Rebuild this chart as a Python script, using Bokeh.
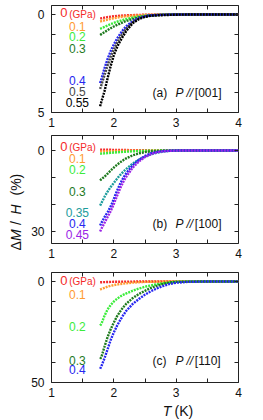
from math import pi
from bokeh.plotting import figure
from bokeh.layouts import column, row
from bokeh.models import Range1d, FixedTicker, LinearAxis, Label
from bokeh.embed import file_html
from bokeh.resources import INLINE

# ---------------- data ----------------
T = [1.78, 1.8, 1.85, 1.9, 1.95, 2.0, 2.05, 2.1, 2.15, 2.2, 2.3, 2.4, 2.5,
     2.6, 2.7, 2.8, 2.9, 3.0, 3.2, 3.5, 4.0]

# panel (a) P // [001]
a_pressures = ["0", "0.1", "0.2", "0.3", "0.4", "0.5", "0.55"]
a_p0 = [0.20, 0.19, 0.16, 0.13, 0.11, 0.09, 0.07, 0.06, 0.05, 0.04, 0.03, 0.02, 0.01, 0.01, 0.0, 0.0, 0.0, 0.0, 0.0, 0.0, 0.0]
a_p01 = [0.36, 0.34, 0.30, 0.26, 0.22, 0.19, 0.16, 0.13, 0.11, 0.09, 0.06, 0.04, 0.02, 0.01, 0.01, 0.0, 0.0, 0.0, 0.0, 0.0, 0.0]
a_p02 = [0.73, 0.70, 0.63, 0.56, 0.49, 0.43, 0.37, 0.32, 0.27, 0.23, 0.16, 0.10, 0.06, 0.04, 0.02, 0.01, 0.0, 0.0, 0.0, 0.0, 0.0]
a_p03 = [1.04, 1.00, 0.90, 0.80, 0.70, 0.61, 0.53, 0.46, 0.39, 0.33, 0.23, 0.15, 0.09, 0.05, 0.03, 0.01, 0.01, 0.0, 0.0, 0.0, 0.0]
a_p04 = [3.50, 3.30, 2.75, 2.27, 1.86, 1.53, 1.24, 1.00, 0.78, 0.60, 0.34, 0.17, 0.08, 0.04, 0.02, 0.01, 0.0, 0.0, 0.0, 0.0, 0.0]
a_p05 = [3.80, 3.60, 3.10, 2.60, 2.15, 1.78, 1.45, 1.17, 0.93, 0.72, 0.40, 0.20, 0.10, 0.05, 0.03, 0.02, 0.01, 0.0, 0.0, 0.0, 0.0]
a_p055 = [4.68, 4.45, 3.92, 3.25, 2.62, 2.08, 1.68, 1.36, 1.10, 0.84, 0.45, 0.24, 0.12, 0.06, 0.04, 0.03, 0.02, 0.01, 0.0, 0.0, 0.0]

# panel (b) P // [100]
b_pressures = ["0", "0.1", "0.2", "0.3", "0.35", "0.4", "0.45"]
b_p0 = [-0.3, -0.3, -0.3, -0.3, -0.3, -0.2, -0.2, -0.2, -0.2, -0.2, -0.1, -0.1, -0.1, -0.1, 0.0, 0.0, 0.0, 0.0, 0.0, 0.0, 0.0]
b_p01 = [0.35, 0.33, 0.30, 0.27, 0.24, 0.21, 0.18, 0.15, 0.13, 0.11, 0.08, 0.05, 0.03, 0.02, 0.01, 0.0, 0.0, 0.0, 0.0, 0.0, 0.0]
b_p02 = [1.20, 1.15, 1.05, 0.95, 0.85, 0.75, 0.66, 0.58, 0.50, 0.43, 0.30, 0.20, 0.12, 0.07, 0.03, 0.01, 0.0, 0.0, 0.0, 0.0, 0.0]
b_p03 = [11.1, 10.6, 9.7, 8.6, 7.4, 6.3, 5.3, 4.4, 3.6, 2.9, 1.8, 1.1, 0.6, 0.3, 0.15, 0.06, 0.02, 0.0, 0.0, 0.0, 0.0]
b_p035 = [20.4, 19.5, 17.2, 15.2, 13.5, 12.0, 10.5, 9.1, 7.9, 6.8, 4.9, 3.4, 2.3, 1.4, 0.8, 0.4, 0.15, 0.05, 0.0, 0.0, 0.0]
b_p04 = [27.8, 26.8, 24.7, 22.8, 20.7, 17.9, 15.0, 12.4, 10.2, 8.4, 5.5, 3.5, 2.0, 1.0, 0.5, 0.2, 0.08, 0.0, 0.0, 0.0, 0.0]
b_p045 = [30.0, 29.0, 26.8, 24.6, 22.4, 19.8, 16.9, 14.1, 11.7, 9.7, 6.4, 4.1, 2.4, 1.3, 0.6, 0.25, 0.1, 0.03, 0.0, 0.0, 0.0]

# panel (c) P // [110]
c_pressures = ["0", "0.1", "0.2", "0.3", "0.4"]
c_p0 = [0.4, 0.35, 0.3, 0.25, 0.2, 0.15, 0.12, 0.1, 0.08, 0.06, 0.04, 0.02, 0.01, 0.0, 0.0, 0.0, 0.0, 0.0, 0.0, 0.0, 0.0]
c_p01 = [4.0, 3.7, 3.1, 2.5, 2.1, 1.8, 1.5, 1.25, 1.05, 0.85, 0.55, 0.35, 0.2, 0.1, 0.05, 0.02, 0.01, 0.0, 0.0, 0.0, 0.0]
c_p02 = [21.8, 21.0, 17.0, 13.8, 11.6, 9.9, 8.6, 7.5, 6.6, 5.9, 4.6, 3.5, 2.6, 1.9, 1.3, 0.8, 0.4, 0.15, 0.0, 0.0, 0.0]
c_p03 = [38.3, 37.5, 32.3, 27.5, 23.6, 20.3, 17.3, 14.9, 12.8, 11.0, 8.3, 6.2, 4.6, 3.1, 2.0, 1.1, 0.5, 0.2, 0.05, 0.0, 0.0]
c_p04 = [43.2, 42.0, 38.0, 33.5, 28.9, 25.2, 22.0, 19.2, 16.7, 14.5, 11.2, 8.7, 6.5, 4.7, 3.3, 2.1, 1.2, 0.6, 0.15, 0.0, 0.0]

x_ticks = [1, 2, 3, 4]
x_minor = [1.5, 2.5, 3.5]

# ---------------- style ----------------
FONT = "Liberation Sans"
FRAME = "#222222"
INK = "#111111"
COL = {"red": "#f42a2a", "orange": "#ff9b30", "green": "#3bec3b", "dgreen": "#1e7a1e",
       "blue": "#2626f0", "gray": "#474747", "black": "#000000", "teal": "#1c9c9c",
       "purple": "#9b24e6"}


def make_fig(height, yr, ymaj, ymin, top, bottom):
    p = figure(width=222, height=height, x_range=Range1d(1, 4), y_range=yr,
               output_backend="svg", toolbar_location=None,
               min_border_left=22, min_border_right=12,
               min_border_top=top, min_border_bottom=bottom)
    p.outline_line_color = FRAME
    p.outline_line_width = 1
    p.outline_line_alpha = 1
    p.xgrid.visible = False
    p.ygrid.visible = False
    p.background_fill_color = "white"
    p.border_fill_color = "white"
    xt = FixedTicker(ticks=x_ticks, minor_ticks=x_minor)
    yt = FixedTicker(ticks=ymaj, minor_ticks=ymin)
    for ax, t in ((p.xaxis[0], xt), (p.yaxis[0], yt)):
        ax.ticker = t
        ax.axis_line_color = None
        ax.major_tick_in = 4
        ax.major_tick_out = 0
        ax.minor_tick_in = 4
        ax.minor_tick_out = 0
        ax.major_tick_line_color = FRAME
        ax.minor_tick_line_color = FRAME
        ax.major_label_text_font = FONT
        ax.major_label_text_font_size = "12px"
        ax.major_label_text_color = INK
    p.xaxis.major_label_standoff = 5
    p.yaxis.major_label_standoff = 7
    for loc, t in (("right", yt), ("above", xt)):
        ax = LinearAxis(ticker=FixedTicker(ticks=t.ticks, minor_ticks=t.minor_ticks),
                        axis_line_color=None, major_tick_in=4, major_tick_out=0,
                        minor_tick_in=4, minor_tick_out=0,
                        major_tick_line_color=FRAME, minor_tick_line_color=FRAME,
                        major_label_text_font_size="0px", major_label_text_color=None,
                        major_label_standoff=0)
        p.add_layout(ax, loc)
    return p


def blank_fig(width, height, xr, yr):
    p = figure(width=width, height=height, x_range=xr, y_range=yr,
               output_backend="svg", toolbar_location=None,
               min_border=0, min_border_left=0, min_border_right=0,
               min_border_top=0, min_border_bottom=0)
    p.axis.visible = False
    p.grid.visible = False
    p.outline_line_color = None
    p.background_fill_color = "white"
    p.border_fill_color = "white"
    return p


def curves(p, series):
    for vals, c in series:
        p.line(T, vals, line_color=c, line_width=2.4, line_dash="2 1")


def txt(p, x, y, s, c, size="12px", style="normal", align="center", angle=0.0):
    p.add_layout(Label(x=x, y=y, text=s, text_color=c, text_font=FONT,
                       text_font_size=size, text_font_style=style, angle=angle,
                       text_align=align, text_baseline="middle"))


def plabels(p, items, gpa_y, zero_y):
    txt(p, 1.20, zero_y, "0", COL["red"], size="13px")
    txt(p, 1.285, gpa_y, "(GPa)", COL["red"], size="10px", align="left")
    for s, y, c in items:
        txt(p, 1.415, y, s, c)


def panel_tag(p, y, tag, direction):
    txt(p, 2.62, y, tag, INK, align="left")
    txt(p, 2.99, y, "P //", INK, style="italic", align="left")
    txt(p, 3.30, y, direction, INK, align="left")


# panel (a)
pa = make_fig(132, Range1d(5, -0.46), [0, 5], [1, 2, 3, 4], 5, 20)
curves(pa, [(a_p0, COL["red"]), (a_p01, COL["orange"]), (a_p02, COL["green"]),
            (a_p03, COL["dgreen"]), (a_p04, COL["blue"]), (a_p05, COL["gray"]),
            (a_p055, COL["black"])])
plabels(pa, [(a_pressures[1], 0.60, COL["orange"]), (a_pressures[2], 1.11, COL["green"]),
             (a_pressures[3], 1.71, COL["dgreen"]), (a_pressures[4], 3.37, COL["blue"]),
             (a_pressures[5], 3.93, COL["gray"]), (a_pressures[6], 4.47, COL["black"])],
        0.01, -0.08)
panel_tag(pa, 3.98, "(a)", "[001]")

# panel (b)
pb = make_fig(137, Range1d(34.44, -5.56), [0, 30], [10, 20], 3, 26)
curves(pb, [(b_p0, COL["red"]), (b_p01, COL["orange"]), (b_p02, COL["green"]),
            (b_p03, COL["dgreen"]), (b_p035, COL["teal"]), (b_p04, COL["blue"]),
            (b_p045, COL["purple"])])
plabels(pb, [(b_pressures[1], 2.78, COL["orange"]), (b_pressures[2], 7.04, COL["green"]),
             (b_pressures[3], 15.2, COL["dgreen"]), (b_pressures[4], 22.96, COL["teal"]),
             (b_pressures[5], 26.85, COL["blue"]), (b_pressures[6], 31.1, COL["purple"])],
        -1.1, -1.56)
panel_tag(pb, 27.4, "(b)", "[100]")

# panel (c)
pc = make_fig(133, Range1d(50, -4.46), [0, 50], [10, 20, 30, 40], 3, 20)
curves(pc, [(c_p0, COL["red"]), (c_p01, COL["orange"]), (c_p02, COL["green"]),
            (c_p03, COL["dgreen"]), (c_p04, COL["blue"])])
plabels(pc, [(c_pressures[1], 6.29, COL["orange"]), (c_pressures[2], 22.2, COL["green"]),
             (c_pressures[3], 38.9, COL["dgreen"]), (c_pressures[4], 43.8, COL["blue"])],
        0.0, -0.5)
panel_tag(pc, 39.6, "(c)", "[110]")

# x-axis title strip (page-pixel coordinates)
tfig = blank_fig(222, 18, Range1d(28, 250), Range1d(420, 402))
txt(tfig, 160, 410, "T", INK, size="14px", style="italic", align="left")
txt(tfig, 174, 410, "(K)", INK, size="14px", align="left")

# y-axis title strip (page-pixel coordinates), rotated pieces
yfig = blank_fig(28, 420, Range1d(0, 28), Range1d(420, 0))
for s, yy, st in (("\u0394", 250, "normal"), ("M", 240.5, "italic"), ("/", 224.5, "normal"),
                  ("H", 214, "italic"), ("(%)", 195, "normal")):
    txt(yfig, 15, yy, s, INK, size="14px", style=st, align="left", angle=pi / 2)

layout = row(yfig, column(pa, pb, pc, tfig))

open("out.html", "w").write(file_html(layout, INLINE))
